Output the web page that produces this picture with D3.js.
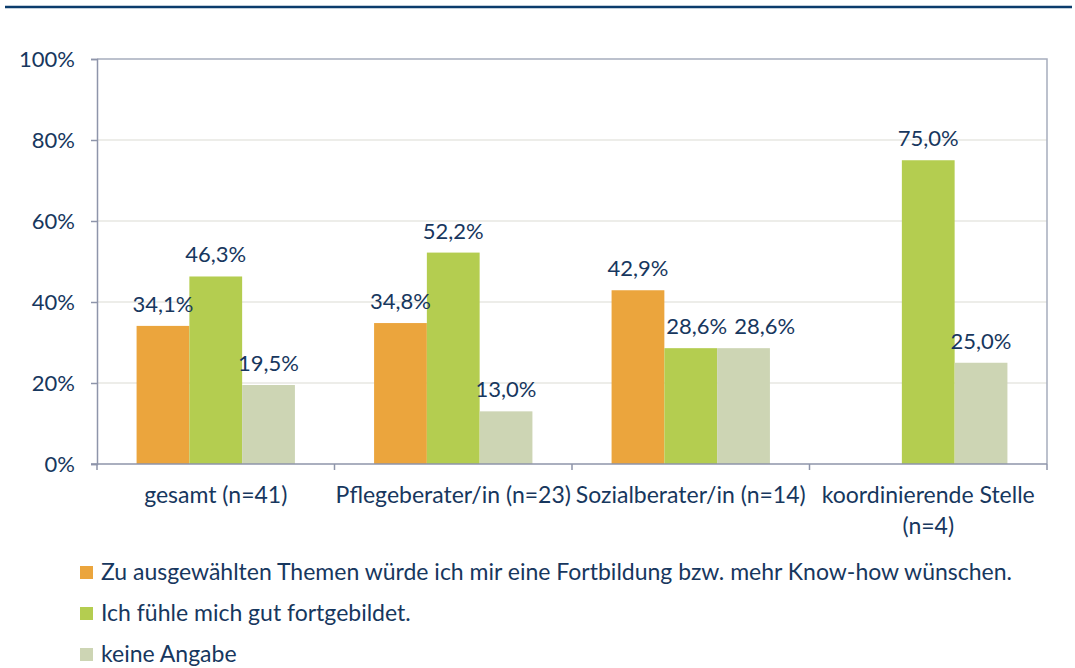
<!DOCTYPE html>
<html>
<head>
<meta charset="utf-8">
<script src="https://cdn.jsdelivr.net/npm/d3@7"></script>
<style>
  body { margin: 0; background: #fff; }
  svg text { font-family: Lato, "Open Sans", sans-serif; fill: #17375e; }
</style>
</head>
<body>
<div id="chart"></div>
<script>
var categories = ['gesamt (n=41)', 'Pflegeberater/in (n=23)', 'Sozialberater/in (n=14)', 'koordinierende Stelle (n=4)'];
var seriesNames = [
  'Zu ausgewählten Themen würde ich mir eine Fortbildung bzw. mehr Know-how wünschen.',
  'Ich fühle mich gut fortgebildet.',
  'keine Angabe'
];
var fortbildung = [34.1, 34.8, 42.9, null];
var gutFortgebildet = [46.3, 52.2, 28.6, 75.0];
var keineAngabe = [19.5, 13.0, 28.6, 25.0];
var yTicks = [0, 20, 40, 60, 80, 100];
var colors = ['#eba53d', '#b4cd50', '#cdd5b4'];

var series = [fortbildung, gutFortgebildet, keineAngabe];

var svgWidth = 1075;
var svgHeight = 668;
var plotLeft = 97, plotRight = 1047, plotTop = 59, plotBottom = 464;
var fontSize = '23px';
var numSize = '22px';
var textColor = '#17375e';
var axisColor = '#8e95aa';

var svg = d3.select('#chart')
  .append('svg')
  .attr('width', svgWidth)
  .attr('height', svgHeight);

// blue rule at the top
svg.append('line')
  .attr('x1', 5).attr('x2', 1072)
  .attr('y1', 7).attr('y2', 7)
  .attr('stroke', '#0b3c6c')
  .attr('stroke-width', 2.5);

var x0 = d3.scaleBand()
  .domain(categories)
  .range([plotLeft, plotRight])
  .paddingInner(0)
  .paddingOuter(0);

var x1 = d3.scaleBand()
  .domain(d3.range(series.length))
  .range([0, x0.bandwidth()])
  .paddingInner(0)
  .paddingOuter(0.75);

var y = d3.scaleLinear()
  .domain([0, 100])
  .range([plotBottom, plotTop]);

// gridlines
svg.append('g')
  .selectAll('line')
  .data(yTicks.filter(function(d) { return d > 0 && d < 100; }))
  .enter()
  .append('line')
  .attr('x1', plotLeft).attr('x2', plotRight)
  .attr('y1', function(d) { return y(d); })
  .attr('y2', function(d) { return y(d); })
  .attr('stroke', '#dcdcd4')
  .attr('stroke-width', 1.2);

// plot border top and right
svg.append('path')
  .attr('d', 'M' + plotLeft + ',' + y(100) + 'H' + plotRight + 'V' + plotBottom)
  .attr('fill', 'none')
  .attr('stroke', '#a7adbd')
  .attr('stroke-width', 1.5);

// bars
var groups = svg.append('g')
  .selectAll('g')
  .data(series)
  .enter()
  .append('g')
  .attr('fill', function(d, i) { return colors[i]; });

function points(d, i) {
  return d.map(function(v, j) { return { s: i, cat: categories[j], value: v }; })
    .filter(function(e) { return e.value != null; });
}

groups.selectAll('rect')
  .data(points)
  .enter()
  .append('rect')
  .attr('x', function(d) { return x0(d.cat) + x1(d.s); })
  .attr('y', function(d) { return y(d.value); })
  .attr('width', x1.bandwidth())
  .attr('height', function(d) { return y(0) - y(d.value); });

// value labels
var fmt = d3.format('.1f');
var labels = svg.append('g')
  .selectAll('text')
  .data(d3.merge(series.map(points)))
  .enter()
  .append('text')
  .attr('x', function(d) { return x0(d.cat) + x1(d.s) + x1.bandwidth() / 2; })
  .attr('y', function(d) { return y(d.value) - 14; })
  .attr('text-anchor', 'middle')
  .style('font-size', numSize)
  .text(function(d) { return fmt(d.value).replace('.', ',') + '%'; });

// push apart labels that collide inside a group
categories.forEach(function(c) {
  var inCat = labels.filter(function(d) { return d.cat === c; }).nodes()
    .sort(function(a, b) { return a.__data__.s - b.__data__.s; });
  for (var k = 1; k < inCat.length; k++) {
    var a = inCat[k - 1].getBBox(), b = inCat[k].getBBox();
    var vOverlap = a.y < b.y + b.height && b.y < a.y + a.height;
    var gap = b.x - (a.x + a.width);
    if (vOverlap && gap < 7) {
      var shift = 7 - gap;
      var prev = d3.select(inCat[k - 1]);
      prev.attr('x', +prev.attr('x') + 6);
      var cur = d3.select(inCat[k]);
      cur.attr('x', +cur.attr('x') + shift + 6);
    }
  }
});

// y axis
var yAxis = svg.append('g')
  .attr('transform', 'translate(' + plotLeft + ',0)')
  .call(d3.axisLeft(y).tickValues(yTicks).tickSize(6).tickPadding(16)
    .tickFormat(function(d) { return d + '%'; }));
yAxis.select('.domain').attr('stroke', axisColor).attr('stroke-width', 1.5);
yAxis.selectAll('.tick line').attr('stroke', axisColor).attr('stroke-width', 1.5);
yAxis.selectAll('.tick text')
  .style('font-size', numSize)
  .style('font-family', 'Lato, sans-serif')
  .attr('fill', textColor)
  .attr('dy', '0.36em');

// x axis
var xAxis = svg.append('g')
  .attr('transform', 'translate(0,' + plotBottom + ')');
xAxis.append('line')
  .attr('x1', plotLeft - 6).attr('x2', plotRight)
  .attr('stroke', axisColor).attr('stroke-width', 1.5);
xAxis.selectAll('.xtick')
  .data(categories.map(function(c) { return x0(c); }).concat([plotRight]))
  .enter()
  .append('line')
  .attr('x1', function(d) { return d; }).attr('x2', function(d) { return d; })
  .attr('y1', 0).attr('y2', 6)
  .attr('stroke', axisColor).attr('stroke-width', 1.5);

var catLabels = xAxis.selectAll('.cat')
  .data(categories)
  .enter()
  .append('text')
  .attr('class', 'cat')
  .attr('text-anchor', 'middle')
  .attr('y', 39)
  .style('font-size', fontSize)
  .text(function(d) { return d; });

// wrap long category labels to the band width
catLabels.each(function(d) {
  var t = d3.select(this);
  var cx = x0(d) + x0.bandwidth() / 2;
  t.text(null);
  var words = d.split(' ');
  var line = [];
  var tspan = t.append('tspan').attr('x', cx).attr('dy', 0);
  words.forEach(function(w) {
    line.push(w);
    tspan.text(line.join(' '));
    if (tspan.node().getComputedTextLength() > x0.bandwidth() + 4 && line.length > 1) {
      line.pop();
      tspan.text(line.join(' '));
      line = [w];
      tspan = t.append('tspan').attr('x', cx).attr('dy', 31).text(w);
    }
  });
});

// legend
var legend = svg.selectAll('.legend')
  .data(seriesNames)
  .enter()
  .append('g')
  .attr('class', 'legend')
  .attr('transform', function(d, i) { return 'translate(80,' + (566 + i * 41) + ')'; });

legend.append('rect')
  .attr('width', 13)
  .attr('height', 13)
  .attr('fill', function(d, i) { return colors[i]; });

legend.append('text')
  .attr('x', 21)
  .attr('y', 14)
  .style('font-size', fontSize)
  .text(function(d) { return d; });
</script>
</body>
</html>
